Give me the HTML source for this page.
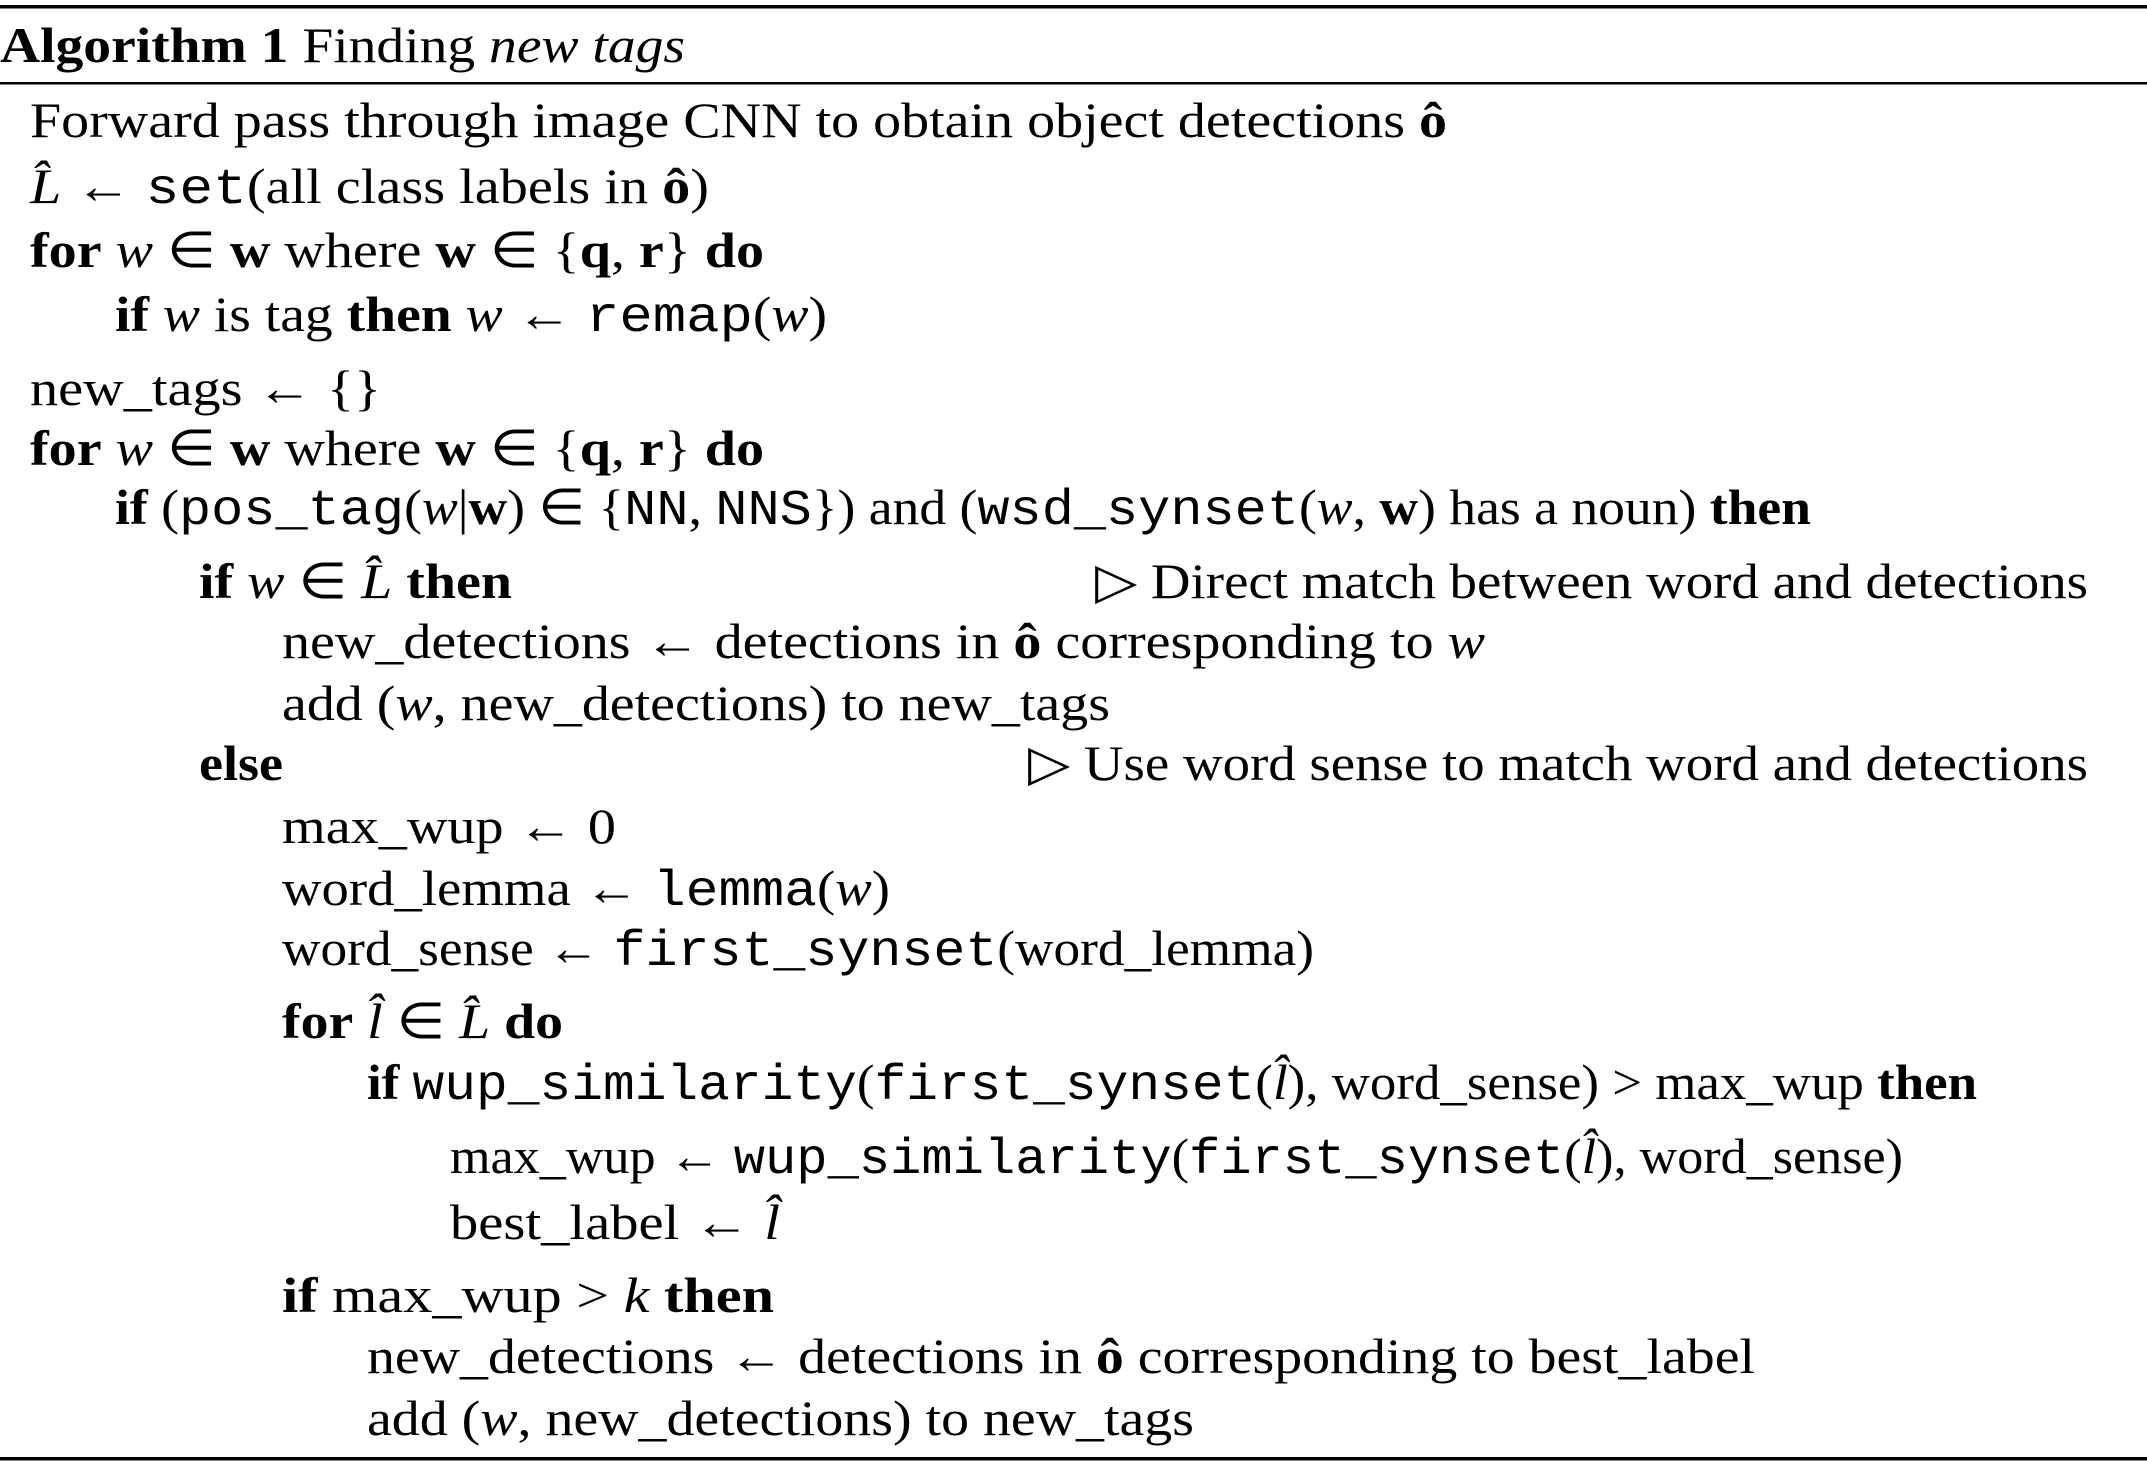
<!DOCTYPE html>
<html><head><meta charset="utf-8"><style>
html,body{margin:0;padding:0;background:#fff;}
svg{display:block;}
text{font-family:"Liberation Serif",serif;font-size:50px;fill:#000;}
.b{font-weight:bold;}
.i{font-style:italic;}
.m{font-family:"Liberation Mono",monospace;}
</style></head><body>
<svg width="2147" height="1464" viewBox="0 0 2147 1464" xmlns="http://www.w3.org/2000/svg" lengthAdjust="spacingAndGlyphs">
<rect x="0" y="5" width="2147" height="3.5" fill="#000"/>
<rect x="0" y="82" width="2147" height="2.5" fill="#000"/>
<rect x="0" y="1457" width="2147" height="3.5" fill="#000"/>

<text x="0" y="62" textLength="685" lengthAdjust="spacingAndGlyphs"><tspan class="b">Algorithm 1</tspan> Finding <tspan class="i">new tags</tspan></text>

<text x="30" y="137" textLength="1417" lengthAdjust="spacingAndGlyphs">Forward pass through image CNN to obtain object detections <tspan class="b">ô</tspan></text>
<text x="30" y="203" textLength="679" lengthAdjust="spacingAndGlyphs"><tspan class="i">L̂</tspan> ← <tspan class="m">set</tspan>(all class labels in <tspan class="b">ô</tspan>)</text>
<text x="30" y="267" textLength="734" lengthAdjust="spacingAndGlyphs"><tspan class="b">for</tspan> <tspan class="i">w</tspan> ∈ <tspan class="b">w</tspan> where <tspan class="b">w</tspan> ∈ {<tspan class="b">q</tspan>, <tspan class="b">r</tspan>} <tspan class="b">do</tspan></text>
<text x="115" y="331" textLength="712" lengthAdjust="spacingAndGlyphs"><tspan class="b">if</tspan> <tspan class="i">w</tspan> is tag <tspan class="b">then</tspan> <tspan class="i">w</tspan> ← <tspan class="m">remap</tspan>(<tspan class="i">w</tspan>)</text>
<text x="30" y="405" textLength="351" lengthAdjust="spacingAndGlyphs">new_tags ← {}</text>
<text x="30" y="465" textLength="734" lengthAdjust="spacingAndGlyphs"><tspan class="b">for</tspan> <tspan class="i">w</tspan> ∈ <tspan class="b">w</tspan> where <tspan class="b">w</tspan> ∈ {<tspan class="b">q</tspan>, <tspan class="b">r</tspan>} <tspan class="b">do</tspan></text>
<text x="115" y="524" textLength="1696" lengthAdjust="spacingAndGlyphs"><tspan class="b">if</tspan> (<tspan class="m">pos_tag</tspan>(<tspan class="i">w</tspan>|<tspan class="b">w</tspan>) ∈ {<tspan class="m">NN</tspan>, <tspan class="m">NNS</tspan>}) and (<tspan class="m">wsd_synset</tspan>(<tspan class="i">w</tspan>, <tspan class="b">w</tspan>) has a noun) <tspan class="b">then</tspan></text>
<text x="199" y="598" textLength="313" lengthAdjust="spacingAndGlyphs"><tspan class="b">if</tspan> <tspan class="i">w</tspan> ∈ <tspan class="i">L̂</tspan> <tspan class="b">then</tspan></text>
<text x="1095" y="598" textLength="993" lengthAdjust="spacingAndGlyphs">▷ Direct match between word and detections</text>
<text x="282" y="658" textLength="1203" lengthAdjust="spacingAndGlyphs">new_detections ← detections in <tspan class="b">ô</tspan> corresponding to <tspan class="i">w</tspan></text>
<text x="282" y="720" textLength="828" lengthAdjust="spacingAndGlyphs">add (<tspan class="i">w</tspan>, new_detections) to new_tags</text>
<text x="199" y="780" textLength="84" lengthAdjust="spacingAndGlyphs"><tspan class="b">else</tspan></text>
<text x="1028" y="780" textLength="1060" lengthAdjust="spacingAndGlyphs">▷ Use word sense to match word and detections</text>
<text x="282" y="843" textLength="334" lengthAdjust="spacingAndGlyphs">max_wup ← 0</text>
<text x="282" y="905" textLength="608" lengthAdjust="spacingAndGlyphs">word_lemma ← <tspan class="m">lemma</tspan>(<tspan class="i">w</tspan>)</text>
<text x="282" y="965" textLength="1032" lengthAdjust="spacingAndGlyphs">word_sense ← <tspan class="m">first_synset</tspan>(word_lemma)</text>
<text x="282" y="1038" textLength="281" lengthAdjust="spacingAndGlyphs"><tspan class="b">for</tspan> <tspan class="i">l̂</tspan> ∈ <tspan class="i">L̂</tspan> <tspan class="b">do</tspan></text>
<text x="367" y="1099" textLength="1610" lengthAdjust="spacingAndGlyphs"><tspan class="b">if</tspan> <tspan class="m">wup_similarity</tspan>(<tspan class="m">first_synset</tspan>(<tspan class="i">l̂</tspan>), word_sense) &gt; max_wup <tspan class="b">then</tspan></text>
<text x="450" y="1173" textLength="1453" lengthAdjust="spacingAndGlyphs">max_wup ← <tspan class="m">wup_similarity</tspan>(<tspan class="m">first_synset</tspan>(<tspan class="i">l̂</tspan>), word_sense)</text>
<text x="450" y="1239" textLength="330" lengthAdjust="spacingAndGlyphs">best_label ← <tspan class="i">l̂</tspan></text>
<text x="282" y="1312" textLength="492" lengthAdjust="spacingAndGlyphs"><tspan class="b">if</tspan> max_wup &gt; <tspan class="i">k</tspan>  <tspan class="b">then</tspan></text>
<text x="367" y="1373" textLength="1388" lengthAdjust="spacingAndGlyphs">new_detections ← detections in <tspan class="b">ô</tspan> corresponding to best_label</text>
<text x="367" y="1435" textLength="827" lengthAdjust="spacingAndGlyphs">add (<tspan class="i">w</tspan>, new_detections) to new_tags</text>
</svg>
</body></html>
